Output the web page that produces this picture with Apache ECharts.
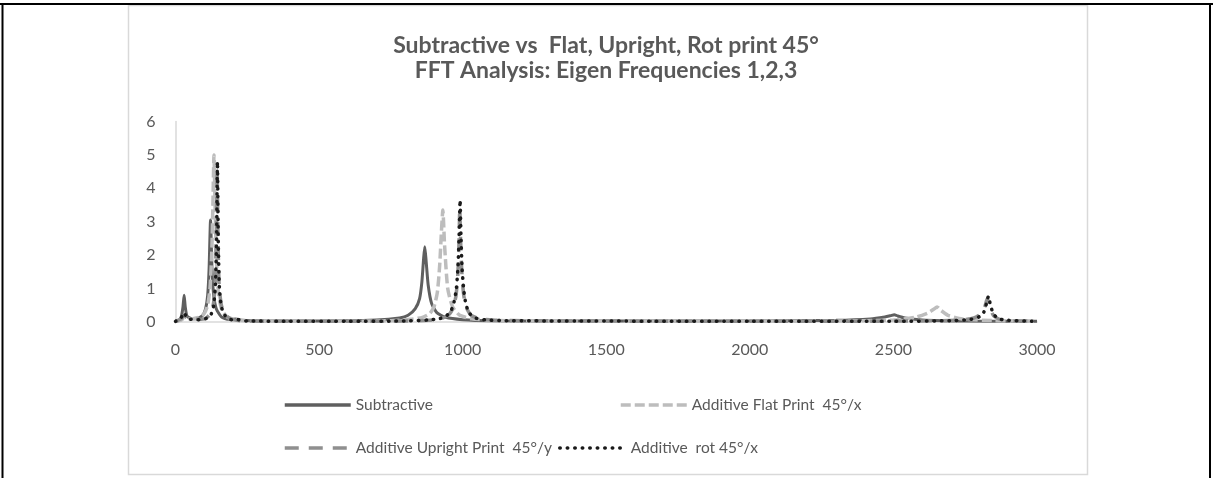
<!DOCTYPE html>
<html>
<head>
<meta charset="utf-8">
<script src="https://cdn.jsdelivr.net/npm/echarts@6/dist/echarts.min.js"></script>
<style>
  html, body { margin: 0; padding: 0; background: #fff; }
  #chart { width: 1213px; height: 478px; }
</style>
</head>
<body>
<div id="chart"></div>
<script>
// values (frequency in Hz, amplitude)
var xTicks = [0, 500, 1000, 1500, 2000, 2500, 3000];
var yTicks = [0, 1, 2, 3, 4, 5, 6];

var subFreq = [0, 12, 20, 26, 30, 34, 40, 55, 75, 95, 105, 112, 117, 122, 127, 133, 142, 160, 185, 210, 230, 300, 500, 700, 780, 810, 835, 850, 858, 864, 868, 873, 880, 892, 910, 940, 1000, 1100, 1400, 2000, 2300, 2420, 2470, 2490, 2503, 2515, 2540, 2600, 2750, 3000];
var subVal = [0.02, 0.05, 0.15, 0.45, 0.8, 0.45, 0.18, 0.1, 0.1, 0.2, 0.4, 0.8, 1.6, 3.05, 1.6, 0.8, 0.4, 0.15, 0.08, 0.09, 0.05, 0.03, 0.03, 0.06, 0.12, 0.2, 0.4, 0.7, 1.2, 1.9, 2.25, 1.8, 1.1, 0.55, 0.28, 0.14, 0.07, 0.04, 0.03, 0.03, 0.05, 0.09, 0.15, 0.19, 0.22, 0.18, 0.12, 0.06, 0.03, 0.02];

var flatFreq = [0, 20, 30, 40, 60, 85, 100, 112, 120, 126, 130, 134, 138, 143, 150, 162, 180, 210, 260, 400, 600, 750, 820, 860, 885, 900, 912, 920, 926, 931, 937, 948, 965, 990, 1030, 1100, 1300, 1800, 2300, 2500, 2580, 2620, 2640, 2652, 2665, 2690, 2740, 2850, 3000];
var flatVal = [0.02, 0.06, 0.12, 0.1, 0.1, 0.15, 0.25, 0.5, 1.0, 2.0, 3.4, 5.0, 3.4, 1.8, 0.8, 0.35, 0.15, 0.07, 0.03, 0.02, 0.02, 0.04, 0.08, 0.14, 0.25, 0.45, 0.9, 1.7, 2.7, 3.35, 2.3, 1.0, 0.45, 0.2, 0.1, 0.05, 0.03, 0.02, 0.03, 0.06, 0.15, 0.27, 0.38, 0.45, 0.35, 0.2, 0.09, 0.04, 0.02];

var uprFreq = [0, 20, 30, 40, 60, 90, 110, 125, 133, 138, 142, 145, 148, 152, 160, 175, 200, 240, 400, 700, 880, 930, 955, 968, 977, 983, 987, 990, 993, 997, 1003, 1012, 1030, 1060, 1120, 1400, 2000, 2600, 2740, 2780, 2805, 2818, 2827, 2836, 2848, 2870, 2920, 3000];
var uprVal = [0.02, 0.1, 0.2, 0.12, 0.08, 0.08, 0.14, 0.3, 0.6, 1.2, 2.5, 4.6, 2.5, 1.1, 0.5, 0.2, 0.07, 0.03, 0.02, 0.02, 0.05, 0.12, 0.25, 0.45, 0.8, 1.4, 2.3, 3.4, 2.4, 1.5, 0.85, 0.45, 0.2, 0.1, 0.05, 0.03, 0.02, 0.03, 0.06, 0.12, 0.25, 0.45, 0.7, 0.45, 0.2, 0.08, 0.04, 0.02];

var rotFreq = [0, 15, 25, 30, 35, 45, 65, 90, 110, 125, 133, 139, 143, 146, 149, 153, 160, 172, 190, 205, 215, 230, 260, 400, 600, 800, 880, 920, 945, 960, 970, 978, 984, 988, 991, 994, 998, 1004, 1012, 1025, 1045, 1080, 1150, 1400, 2000, 2500, 2700, 2770, 2800, 2815, 2824, 2831, 2838, 2848, 2865, 2900, 3000];
var rotVal = [0.02, 0.08, 0.2, 0.28, 0.2, 0.1, 0.07, 0.07, 0.12, 0.25, 0.5, 1.1, 2.4, 4.8, 2.4, 1.0, 0.45, 0.2, 0.08, 0.06, 0.08, 0.04, 0.03, 0.02, 0.02, 0.03, 0.06, 0.1, 0.2, 0.35, 0.6, 1.0, 1.7, 2.7, 3.65, 2.6, 1.6, 0.95, 0.5, 0.25, 0.12, 0.06, 0.04, 0.03, 0.02, 0.02, 0.04, 0.08, 0.16, 0.3, 0.55, 0.77, 0.5, 0.25, 0.1, 0.05, 0.02];

var names = ['Subtractive', 'Additive Flat Print  45°/x', 'Additive Upright Print  45°/y', 'Additive  rot 45°/x'];
var titleLines = ['Subtractive vs  Flat, Upright, Rot print 45°', 'FFT Analysis: Eigen Frequencies 1,2,3'];

function pairs(xs, ys) {
  var out = [];
  for (var i = 0; i < xs.length; i++) out.push([xs[i], ys[i]]);
  return out;
}

var txt = '#595959';
var font = 'Lato, "Open Sans", sans-serif';

var chart = echarts.init(document.getElementById('chart'), null, { renderer: 'canvas' });

function legendAt(name, left, top) {
  return {
    data: [name],
    left: left,
    top: top,
    itemWidth: 66,
    itemHeight: 14,
    itemGap: 0,
    itemStyle: { opacity: 0 },
    lineStyle: { width: 3.5 },
    textStyle: { color: txt, fontSize: 15.5, fontFamily: font }
  };
}

chart.setOption({
  animation: false,
  backgroundColor: '#fff',
  legend: [
    legendAt(names[0], 278, 392),
    legendAt(names[1], 614, 392),
    legendAt(names[2], 278, 435),
    legendAt(names[3], 553, 435)
  ],
  grid: { left: 175.5, right: 176, top: 121.5, bottom: 156 },
  xAxis: {
    type: 'value',
    min: xTicks[0],
    max: xTicks[xTicks.length - 1],
    interval: 500,
    axisLine: { lineStyle: { color: '#d9d9d9', width: 1.5 } },
    axisTick: { show: false },
    splitLine: { show: false },
    axisLabel: { color: txt, fontSize: 16, fontFamily: font, margin: 20, formatter: function (v) { return String(v); } }
  },
  yAxis: {
    type: 'value',
    min: yTicks[0],
    max: yTicks[yTicks.length - 1],
    interval: 1,
    axisLine: { show: true, lineStyle: { color: '#d9d9d9', width: 1.5 } },
    axisTick: { show: false },
    splitLine: { show: false },
    axisLabel: { color: txt, fontSize: 16, fontFamily: font, margin: 20 }
  },
  series: [
    {
      name: names[0], type: 'line', symbol: 'none', smooth: 0.2,
      data: pairs(subFreq, subVal),
      itemStyle: { color: '#5f5f5f' },
      lineStyle: { color: '#5f5f5f', width: 3 }
    },
    {
      name: names[1], type: 'line', symbol: 'none', smooth: 0.2,
      data: pairs(flatFreq, flatVal),
      itemStyle: { color: '#bdbdbd' },
      lineStyle: { color: '#bdbdbd', width: 3.5, type: [10, 4] }
    },
    {
      name: names[2], type: 'line', symbol: 'none', smooth: 0.2,
      data: pairs(uprFreq, uprVal),
      itemStyle: { color: '#8f8f8f' },
      lineStyle: { color: '#8f8f8f', width: 3.5, type: [14, 10] }
    },
    {
      name: names[3], type: 'line', symbol: 'none', smooth: 0.2,
      data: pairs(rotFreq, rotVal),
      itemStyle: { color: '#1a1a1a' },
      lineStyle: { color: '#1a1a1a', width: 3.5, type: [0.5, 7], cap: 'round' }
    }
  ],
  graphic: [
    { type: 'rect', silent: true, z: -1, shape: { x: 128.5, y: 5.5, width: 959, height: 469 }, style: { fill: null, stroke: '#d9d9d9', lineWidth: 1.5 } },
    { type: 'line', silent: true, shape: { x1: 0, y1: 4, x2: 1213, y2: 4 }, style: { stroke: '#000', lineWidth: 2 } },
    { type: 'line', silent: true, shape: { x1: 2.5, y1: 4, x2: 2.5, y2: 478 }, style: { stroke: '#000', lineWidth: 2 } },
    { type: 'line', silent: true, shape: { x1: 1210, y1: 4, x2: 1210, y2: 478 }, style: { stroke: '#000', lineWidth: 2 } },
    { type: 'text', silent: true, x: 606, y: 46, style: { text: titleLines[0], fill: txt, font: 'bold 23px ' + font, textAlign: 'center', textVerticalAlign: 'middle' } },
    { type: 'text', silent: true, x: 606, y: 71, style: { text: titleLines[1], fill: txt, font: 'bold 23px ' + font, textAlign: 'center', textVerticalAlign: 'middle' } }
  ]
});
</script>
</body>
</html>
